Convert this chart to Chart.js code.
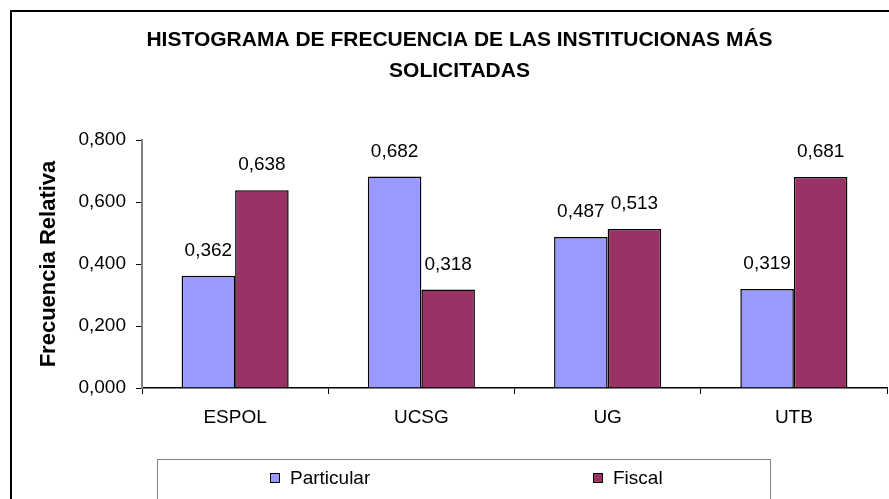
<!DOCTYPE html>
<html>
<head>
<meta charset="utf-8">
<script src="https://cdn.jsdelivr.net/npm/chart.js@4.4.0/dist/chart.umd.min.js"></script>
<style>
  html, body { margin: 0; padding: 0; background: #fff; }
  #wrap { width: 889px; height: 499px; }
</style>
</head>
<body>
<div id="wrap"><canvas id="chart" width="889" height="499"></canvas></div>
<script>
// Data
const categories = ['ESPOL', 'UCSG', 'UG', 'UTB'];
const particular = [0.362, 0.682, 0.487, 0.319];
const fiscal = [0.638, 0.318, 0.513, 0.681];
const yTicks = [0, 0.2, 0.4, 0.6, 0.8];
const seriesNames = ['Particular', 'Fiscal'];
const seriesColors = ['#9999FF', '#993366'];

const FONT = 'Arial, "Liberation Sans", sans-serif';
const TEXT_SIZE = 19;

const formatComma = (v) => v.toFixed(3).replace('.', ',');

// Outer frame, value labels and the boxed legend
const decorations = {
    id: 'decorations',
    afterDraw(chart) {
        const ctx = chart.ctx;
        ctx.save();

        // frame
        ctx.strokeStyle = '#000';
        ctx.lineWidth = 2;
        ctx.strokeRect(11, 11, 900, 520);

        // value labels above bars
        ctx.fillStyle = '#000';
        ctx.font = TEXT_SIZE + 'px ' + FONT;
        ctx.textAlign = 'center';
        ctx.textBaseline = 'middle';
        chart.data.datasets.forEach((ds, i) => {
            chart.getDatasetMeta(i).data.forEach((bar, j) => {
                ctx.fillText(formatComma(ds.data[j]), bar.x, bar.y - 25);
            });
        });

        // legend box
        ctx.strokeStyle = '#808080';
        ctx.lineWidth = 1;
        ctx.strokeRect(157.5, 459.5, 613, 60);
        const itemX = [270, 593];
        ctx.textAlign = 'left';
        seriesNames.forEach((name, i) => {
            ctx.fillStyle = seriesColors[i];
            ctx.fillRect(itemX[i], 473, 10, 10);
            ctx.strokeStyle = '#000';
            ctx.strokeRect(itemX[i] + 0.5, 473.5, 9, 9);
            ctx.fillStyle = '#000';
            ctx.fillText(name, itemX[i] + 20, 479);
        });
        ctx.restore();
    }
};

new Chart(document.getElementById('chart'), {
    type: 'bar',
    data: {
        labels: categories,
        datasets: [
            {
                label: seriesNames[0],
                data: particular,
                backgroundColor: seriesColors[0],
                borderColor: '#000',
                borderWidth: 1.5
            },
            {
                label: seriesNames[1],
                data: fiscal,
                backgroundColor: seriesColors[1],
                borderColor: '#000',
                borderWidth: 1.5
            }
        ]
    },
    options: {
        responsive: false,
        animation: false,
        categoryPercentage: 0.575,
        barPercentage: 1.0,
        layout: {
            padding: { top: 0, left: 32, right: 2, bottom: 71 }
        },
        plugins: {
            legend: { display: false },
            tooltip: { enabled: false },
            title: {
                display: true,
                text: ['HISTOGRAMA DE FRECUENCIA DE LAS INSTITUCIONAS MÁS', 'SOLICITADAS'],
                color: '#000',
                font: { family: FONT, size: 21, weight: 'bold', lineHeight: '31px' },
                padding: { top: 25, bottom: 53 }
            }
        },
        scales: {
            x: {
                grid: {
                    display: true,
                    drawOnChartArea: false,
                    offset: true,
                    tickLength: 6,
                    tickColor: '#000'
                },
                border: { display: true, color: '#000', width: 1.5 },
                ticks: {
                    color: '#000',
                    font: { family: FONT, size: TEXT_SIZE },
                    padding: 12
                },
                afterFit(scale) { scale.height = 40; }
            },
            y: {
                min: 0,
                max: 0.8,
                afterBuildTicks(scale) {
                    scale.ticks = yTicks.map(v => ({ value: v }));
                },
                grid: {
                    display: true,
                    drawOnChartArea: false,
                    tickLength: 6,
                    tickColor: '#000'
                },
                border: { display: true, color: '#808080', width: 2 },
                ticks: {
                    color: '#000',
                    font: { family: FONT, size: TEXT_SIZE },
                    padding: 10,
                    callback: (v) => formatComma(v)
                },
                title: {
                    display: true,
                    text: 'Frecuencia Relativa',
                    color: '#000',
                    font: { family: FONT, size: 22, weight: 'bold' },
                    padding: { top: 4, bottom: 0 }
                },
                afterFit(scale) { scale.width = 110; }
            }
        }
    },
    plugins: [decorations]
});
</script>
</body>
</html>
